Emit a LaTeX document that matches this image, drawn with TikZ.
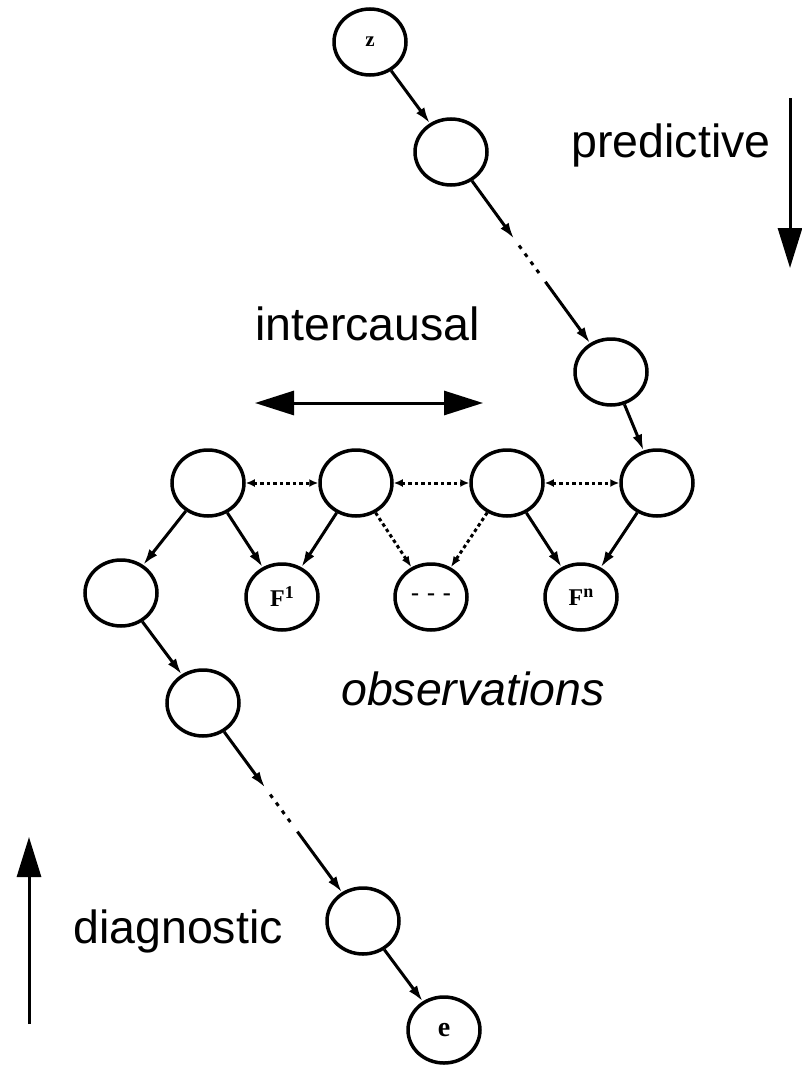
\documentclass[tikz,border=0pt]{standalone}
\usepackage{fontspec}
\setmainfont{Liberation Sans}
\newfontfamily\varfont{Liberation Serif}
\usetikzlibrary{arrows.meta,shapes.geometric,calc}

\begin{document}
\begin{tikzpicture}[x=1pt,y=-1pt,
  var/.style={draw,ellipse,line width=3.5pt,minimum width=72pt,minimum height=66pt,
    inner sep=0pt,font=\varfont\bfseries\fontsize{24}{24}\selectfont},
  link/.style={line width=3pt,-{Latex[length=16pt,width=10pt]}},
  chaindots/.style={line width=3pt,dash pattern=on 4pt off 6pt},
  dotlink/.style={line width=3pt,dash pattern=on 3.5pt off 3pt,-{Latex[length=11pt,width=8pt]}},
  twoway/.style={line width=3pt,dash pattern=on 3.5pt off 3pt,
    {Latex[length=9pt,width=8pt]}-{Latex[length=9pt,width=8pt]}},
  bigarrow/.style={line width=3pt,-{Triangle[length=40pt,width=24pt]}},
  bigboth/.style={line width=3pt,{Triangle[length=39pt,width=24pt]}-{Triangle[length=39pt,width=24pt]}},
  caption/.style={font=\fontsize{46.5}{56}\selectfont,inner sep=0pt,anchor=base},
]
\useasboundingbox (0,0) rectangle (801,1065);

% predictive chain
\node[var,font=\varfont\bfseries\fontsize{21}{21}\selectfont] (z) at (370,42) {z};
\node[var] (n2) at (451,152) {};
\node[var] (n3) at (611,372) {};

% row of causes
\node[var] (a) at (208,483) {};
\node[var] (b) at (356,483) {};
\node[var] (c) at (507,483) {};
\node[var] (d) at (657,483) {};

% observations
\node[var] (f1) at (282,597) {F\raisebox{8pt}{\fontsize{18}{18}\selectfont 1}};
\node[var] (fm) at (431,597) {-\,\,-\,\,-};
\node[var] (fn) at (581,597) {F\raisebox{8pt}{\fontsize{18}{18}\selectfont n}};

% diagnostic chain
\node[var] (l1) at (121,593) {};
\node[var] (l2) at (203,703) {};
\node[var] (l3) at (363,921) {};
\node[var,font=\varfont\bfseries\fontsize{28}{28}\selectfont] (e) at (444,1030) {e};

% elided links
\coordinate (p1) at ($(n2)!0.394!(n3)$);
\coordinate (p2) at ($(n2)!0.425!(n3)$);
\coordinate (p3) at ($(n2)!0.56!(n3)$);
\coordinate (p4) at ($(n2)!0.59!(n3)$);
\coordinate (q1) at ($(l2)!0.388!(l3)$);
\coordinate (q2) at ($(l2)!0.42!(l3)$);
\coordinate (q3) at ($(l2)!0.565!(l3)$);
\coordinate (q4) at ($(l2)!0.59!(l3)$);

\draw[link] (z) -- (n2);
\draw[link] (n2) -- (p1);
\draw[chaindots] (p2) -- (p3);
\draw[link] (p4) -- (n3);
\draw[link] (n3) -- (d);

\draw[twoway] (a) -- (b);
\draw[twoway] (b) -- (c);
\draw[twoway] (c) -- (d);

\draw[link] (a) -- (l1);
\draw[link] (a) -- (f1);
\draw[link] (b) -- (f1);
\draw[dotlink] (b) -- (fm);
\draw[dotlink] (c) -- (fm);
\draw[link] (c) -- (fn);
\draw[link] (d) -- (fn);

\draw[link] (l1) -- (l2);
\draw[link] (l2) -- (q1);
\draw[chaindots] (q2) -- (q3);
\draw[link] (q4) -- (l3);
\draw[link] (l3) -- (e);

% direction arrows
\coordinate (pt) at (790,98);
\coordinate (pb) at (790,268);
\draw[bigarrow] (pt) -- (pb);
\coordinate (il) at (255,403);
\coordinate (ir) at (483,403);
\draw[bigboth] (il) -- (ir);
\coordinate (db) at (29,1024);
\coordinate (dt) at (29,837);
\draw[bigarrow] (db) -- (dt);

% captions
\node[caption] (tpred) at (671,157) {predictive};
\node[caption] (tinter) at (367.5,340) {intercausal};
\node[caption,font=\itshape\fontsize{46.5}{56}\selectfont] (tobs) at (473,705) {observations};
\node[caption] (tdiag) at (178,943) {diagnostic};
\end{tikzpicture}
\end{document}
